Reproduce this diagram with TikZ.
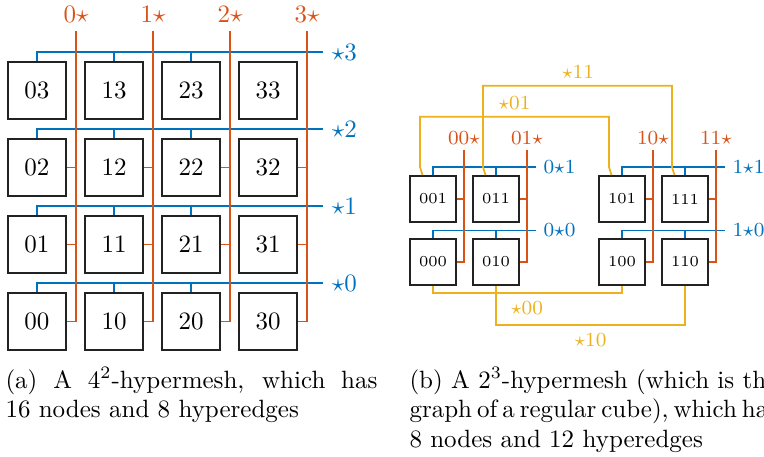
\documentclass[tikz,border=0pt]{standalone}
\usepackage{fix-cm}
\usetikzlibrary{calc}
\definecolor{hblue}{HTML}{0072BD}
\definecolor{horange}{HTML}{D95319}
\definecolor{hyellow}{HTML}{EDB120}
\definecolor{boxline}{HTML}{222222}
\begin{document}
\begin{tikzpicture}[x=0.4pt,y=-0.4pt,
  boxa/.style={draw=boxline, line width=0.95pt, minimum width=23.2pt, minimum height=22.8pt,
    inner sep=0pt, font=\fontsize{10}{12}\selectfont},
  boxb/.style={draw=boxline, line width=0.95pt, minimum size=18.2pt,
    inner sep=0pt, font=\fontsize{6.1}{7}\selectfont},
  rowedge/.style={draw=hblue, line width=0.7pt},
  coledge/.style={draw=horange, line width=0.7pt},
  crossedge/.style={draw=hyellow, line width=0.7pt},
  rowlabel/.style={text=hblue, anchor=west, inner sep=3.3pt, font=\fontsize{10}{12}\selectfont},
  collabel/.style={text=horange, anchor=south, inner sep=3.3pt, font=\fontsize{10}{12}\selectfont},
  rowlabelb/.style={rowlabel, inner sep=2.8pt, font=\fontsize{8}{9.6}\selectfont},
  collabelb/.style={collabel, inner sep=2pt, font=\fontsize{8}{9.6}\selectfont},
  crosslabel/.style={text=hyellow, inner sep=2.6pt, font=\fontsize{8}{9.6}\selectfont},
  captext/.style={text width=148.8pt, align=justify, inner sep=0pt, anchor=base west,
    font=\fontsize{10}{11.8}\selectfont}
]
\useasboundingbox (0,0) rectangle (764,456);

% ---------- 4^2-hypermesh ----------
\foreach \i in {0,...,3}
  \foreach \j in {0,...,3}
    \node[boxa] (a\i\j) at ({37+77*\i},{321.5-77*\j}) {\i\j};

% row hyperedges
\foreach \j in {0,...,3} {
  \coordinate (r\j) at (323,{283-77*\j});
  \draw[rowedge] (a0\j.north) |- (r\j);
  \foreach \i in {1,2}
    \draw[rowedge] (a\i\j.north) -- (a\i\j.north |- r\j);
  \node[rowlabel] (rl\j) at (r\j) {${\star}\j$};
}

% column hyperedges
\foreach \i in {0,...,3} {
  \coordinate (c\i) at ({76+77*\i},31);
  \draw[coledge] (a\i0.east) -| (c\i);
  \foreach \j in {1,2}
    \draw[coledge] (a\i\j.east) -- (a\i\j.east -| c\i);
  \node[collabel] (cl\i) at (c\i) {$\i{\star}$};
}

% ---------- 2^3-hypermesh ----------
\node[boxb] (b001) at (433,199) {001};
\node[boxb] (b011) at (496,199) {011};
\node[boxb] (b101) at (622,199) {101};
\node[boxb] (b111) at (685,199) {111};
\node[boxb] (b000) at (433,262) {000};
\node[boxb] (b010) at (496,262) {010};
\node[boxb] (b100) at (622,262) {100};
\node[boxb] (b110) at (685,262) {110};

% hyperedges along the middle coordinate
\coordinate (e01) at (536,166.7);
\coordinate (e00) at (536,230.5);
\coordinate (f11) at (725,166.7);
\coordinate (f10) at (725,230.5);
\draw[rowedge] (b001.north) |- (e01);
\draw[rowedge] (b011.north) -- (b011.north |- e01);
\draw[rowedge] (b000.north) |- (e00);
\draw[rowedge] (b010.north) -- (b010.north |- e00);
\draw[rowedge] (b101.north) |- (f11);
\draw[rowedge] (b111.north) -- (b111.north |- f11);
\draw[rowedge] (b100.north) |- (f10);
\draw[rowedge] (b110.north) -- (b110.north |- f10);
\node[rowlabelb] (le01) at (e01) {$0{\star}1$};
\node[rowlabelb] (le00) at (e00) {$0{\star}0$};
\node[rowlabelb] (lf11) at (f11) {$1{\star}1$};
\node[rowlabelb] (lf10) at (f10) {$1{\star}0$};

% hyperedges along the last coordinate
\coordinate (g00) at (464,150);
\coordinate (g01) at (527,150);
\coordinate (g10) at (653,150);
\coordinate (g11) at (716,150);
\draw[coledge] (b000.east) -| (g00);
\draw[coledge] (b001.east) -- (b001.east -| g00);
\draw[coledge] (b010.east) -| (g01);
\draw[coledge] (b011.east) -- (b011.east -| g01);
\draw[coledge] (b100.east) -| (g10);
\draw[coledge] (b101.east) -- (b101.east -| g10);
\draw[coledge] (b110.east) -| (g11);
\draw[coledge] (b111.east) -- (b111.east -| g11);
\node[collabelb] (lg00) at (g00) {$00{\star}$};
\node[collabelb] (lg01) at (g01) {$01{\star}$};
\node[collabelb] (lg10) at (g10) {$10{\star}$};
\node[collabelb] (lg11) at (g11) {$11{\star}$};

% hyperedges along the first coordinate
\coordinate (y01) at (514.5,116.7);
\coordinate (y11) at (578,85.7);
\coordinate (y00) at (527,293.3);
\coordinate (y10) at (590.5,325);
\draw[crossedge] ($(b001.north)+(-10.5,0)$) -- ++(-2.5,-8) |- (y01)
  -| ($(b101.north)+(-13,-8)$) -- ($(b101.north)+(-10.5,0)$);
\draw[crossedge] ($(b011.north)+(-10.5,0)$) -- ++(-2.5,-8) |- (y11)
  -| ($(b111.north)+(-13,-8)$) -- ($(b111.north)+(-10.5,0)$);
\draw[crossedge] (b000.south) |- (y00) -| (b100.south);
\draw[crossedge] (b010.south) |- (y10) -| (b110.south);
\node[crosslabel, anchor=south] (ly01) at (y01) {${\star}01$};
\node[crosslabel, anchor=south] (ly11) at (y11) {${\star}11$};
\node[crosslabel, anchor=north, inner sep=3.2pt] (ly00) at (y00) {${\star}00$};
\node[crosslabel, anchor=north, inner sep=3.2pt] (ly10) at (y10) {${\star}10$};

% ---------- captions ----------
\node[captext] (capa) at (5,388)
  {(a) A $4^2$-hypermesh, which has\linebreak 16 nodes and 8 hyperedges};
\node[captext, align=left] (capb) at (409,388)
  {\makebox[148.8pt][s]{(b) A $2^3$-hypermesh (which is the}\\
   \makebox[148.8pt][l]{\spaceskip=2pt\relax graph of a regular cube), which has}\\
   8 nodes and 12 hyperedges};
\end{tikzpicture}
\end{document}
